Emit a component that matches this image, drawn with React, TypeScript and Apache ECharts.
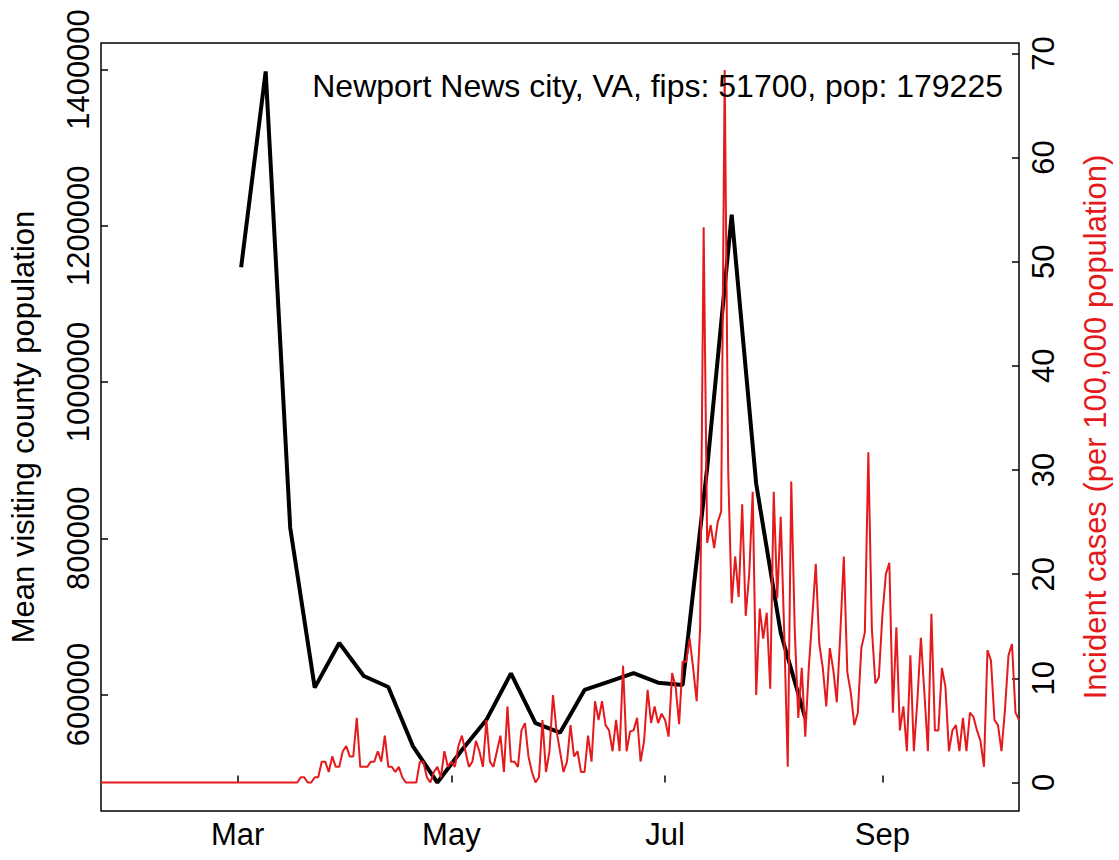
import React, { useEffect, useRef } from "react";
import * as echarts from "echarts";

const TITLE = "Newport News city, VA, fips: 51700, pop: 179225";
const START_DATE = "2020-01-22";
const DAY_COUNT = 263; // Jan 22 .. Oct 10
const MONTH_TICKS = ["2020-03-01", "2020-05-01", "2020-07-01", "2020-09-01"];
const MONTH_NAMES = ["Jan", "Feb", "Mar", "Apr", "May", "Jun", "Jul", "Aug", "Sep", "Oct", "Nov", "Dec"];

const leftTicks = [600000, 800000, 1000000, 1200000, 1400000];
const rightTicks = [0, 10, 20, 30, 40, 50, 60, 70];

// weekly mean visiting county population
const mobilityDates = [
  "2020-03-02", "2020-03-09", "2020-03-16", "2020-03-23", "2020-03-30", "2020-04-06",
  "2020-04-13", "2020-04-20", "2020-04-27", "2020-05-04", "2020-05-11", "2020-05-18",
  "2020-05-25", "2020-06-01", "2020-06-08", "2020-06-15", "2020-06-22", "2020-06-29",
  "2020-07-06", "2020-07-13", "2020-07-20", "2020-07-27", "2020-08-03", "2020-08-10",
];
const mobilityValues = [
  1147000, 1397500, 813500, 608800, 665900, 623700,
  609600, 534000, 487300, 529000, 567600, 627100,
  563500, 551100, 605800, 616600, 627500, 615100,
  612200, 890000, 1214100, 869400, 678700, 569900,
];

// daily incident cases per 100,000
const casesJan = [0, 0, 0, 0, 0, 0, 0, 0, 0, 0];
const casesFeb = [0, 0, 0, 0, 0, 0, 0, 0, 0, 0, 0, 0, 0, 0, 0, 0, 0, 0, 0, 0, 0, 0, 0, 0, 0, 0, 0, 0, 0];
const casesMar = [0, 0, 0, 0, 0, 0, 0, 0, 0, 0, 0, 0, 0, 0, 0, 0, 0, 0, 0.5, 0.5, 0, 0, 0.5, 0.5, 2, 2, 1, 2.5, 1.5, 1.5, 3];
const casesApr = [3.5, 2.5, 2.5, 6.2, 1.5, 1.5, 1.5, 2, 2, 3, 2, 4.5, 1.5, 1.5, 1, 1.5, 0.5, 0, 0, 0, 0, 2, 2, 0.5, 0, 1, 1.5, 0.5, 3, 1.5];
const casesMay = [2, 1.5, 3.5, 4.5, 3, 1.5, 2, 4, 3, 1.5, 6, 2, 1.5, 3, 4.5, 1, 7.3, 2, 2, 1.5, 5, 5.7, 2.5, 1, 0, 0.5, 6, 1, 3, 8.4, 5];
const casesJun = [3, 1, 2, 5.5, 2.5, 3, 1, 1, 4.5, 2, 7.8, 6, 7.8, 5.5, 5, 3, 6, 3, 11.2, 3, 4.9, 5, 6.2, 2, 4, 8.9, 5.7, 7.3, 5.7, 6.6];
const casesJul = [6, 4.4, 10.5, 9.2, 5.6, 11.6, 11.6, 13.8, 11, 7.8, 14.9, 53.3, 23, 24.7, 22.5, 25, 26, 68.4, 30, 17.2, 21.7, 17.8, 26.7, 16, 20, 27.9, 8.4, 16.7, 13.8, 16.3, 9];
const casesAug = [27.9, 17.7, 25.5, 14.3, 1.5, 28.9, 14.6, 6.2, 11, 4.4, 11, 15.8, 21, 13.3, 11, 7.3, 12.9, 10.8, 7.7, 14.3, 21.7, 10.6, 8.6, 5.5, 6.7, 12.9, 14.4, 31.7, 14.8, 9.5, 10.1];
const casesSep = [16, 20, 21.1, 6.7, 14.9, 5, 7.3, 3, 12.2, 3, 7.9, 13.9, 8.6, 3, 16.2, 5, 5, 11, 9.2, 3, 5, 5.5, 3, 6.2, 3, 6.7, 6.3, 5, 4, 1.5];
const casesOct = [12.7, 11.7, 6, 5.5, 3, 7, 12.2, 13.3, 6.7, 6];

function buildDates(start: string, n: number): string[] {
  const out: string[] = [];
  const d0 = new Date(start + "T00:00:00Z").getTime();
  for (let i = 0; i < n; i++) {
    out.push(new Date(d0 + i * 86400000).toISOString().slice(0, 10));
  }
  return out;
}

const FONT = "'Liberation Sans', Arial, Helvetica, sans-serif";
const FS = 31;

export default function App() {
  const ref = useRef<HTMLDivElement>(null);
  useEffect(() => {
    if (!ref.current) return;
    const chart = echarts.init(ref.current, undefined, { renderer: "svg" });
    const dates = buildDates(START_DATE, DAY_COUNT);
    const cases = [
      ...casesJan, ...casesFeb, ...casesMar, ...casesApr, ...casesMay,
      ...casesJun, ...casesJul, ...casesAug, ...casesSep, ...casesOct,
    ];
    const isTick = (_i: number, v: string) => MONTH_TICKS.indexOf(v) >= 0;
    const tickStyle = { color: "#000", width: 1.5 };
    chart.setOption({
      animation: false,
      textStyle: { fontFamily: FONT },
      title: {
        text: TITLE,
        right: 111,
        top: 65,
        textStyle: { fontSize: 32, fontWeight: "normal", color: "#000", fontFamily: FONT },
      },
      grid: {
        left: 99,
        right: 99,
        top: 43,
        bottom: 49,
        show: true,
        borderColor: "#000",
        borderWidth: 1.5,
        backgroundColor: "transparent",
      },
      xAxis: {
        type: "category",
        data: dates,
        boundaryGap: false,
        axisLine: { show: false },
        axisTick: { show: true, inside: true, interval: isTick, length: 7, lineStyle: tickStyle },
        axisLabel: {
          interval: isTick,
          formatter: (v: string) => MONTH_NAMES[parseInt(v.slice(5, 7), 10) - 1],
          fontSize: FS,
          color: "#000",
          margin: 8,
          fontFamily: FONT,
        },
        splitLine: { show: false },
      },
      yAxis: [
        {
          type: "value",
          position: "left",
          min: 450880,
          max: 1433920,
          axisLine: { show: false },
          axisTick: { show: true, inside: true, customValues: leftTicks, length: 7, lineStyle: tickStyle },
          axisLabel: {
            customValues: leftTicks,
            formatter: (v: number) => String(v),
            rotate: 90,
            fontSize: FS,
            color: "#000",
            margin: 7,
            fontFamily: FONT,
          },
          splitLine: { show: false },
          name: "Mean visiting county population",
          nameLocation: "middle",
          nameRotate: 90,
          nameGap: 62,
          nameTextStyle: { fontSize: FS, color: "#000", fontFamily: FONT },
        },
        {
          type: "value",
          position: "right",
          min: -2.74,
          max: 71.0,
          axisLine: { show: false },
          axisTick: { show: true, inside: true, customValues: rightTicks, length: 7, lineStyle: tickStyle },
          axisLabel: {
            customValues: rightTicks,
            formatter: (v: number) => String(v),
            rotate: 90,
            fontSize: FS,
            color: "#000",
            margin: 9,
            fontFamily: FONT,
          },
          splitLine: { show: false },
          name: "Incident cases (per 100,000 population)",
          nameLocation: "middle",
          nameRotate: 90,
          nameGap: 61,
          nameTextStyle: { fontSize: FS, color: "#e41a1c", fontFamily: FONT },
        },
      ],
      series: [
        {
          type: "line",
          yAxisIndex: 0,
          data: mobilityDates.map((d, i) => [d, mobilityValues[i]]),
          symbol: "none",
          lineStyle: { color: "#000", width: 4 },
          z: 2,
        },
        {
          type: "line",
          yAxisIndex: 1,
          data: cases,
          symbol: "none",
          lineStyle: { color: "#e41a1c", width: 2 },
          z: 3,
        },
      ],
    });
    return () => chart.dispose();
  }, []);
  return (
    <div
      ref={ref}
      style={{ position: "fixed", left: 0, top: 0, width: 1119, height: 860, background: "#fff" }}
    />
  );
}
